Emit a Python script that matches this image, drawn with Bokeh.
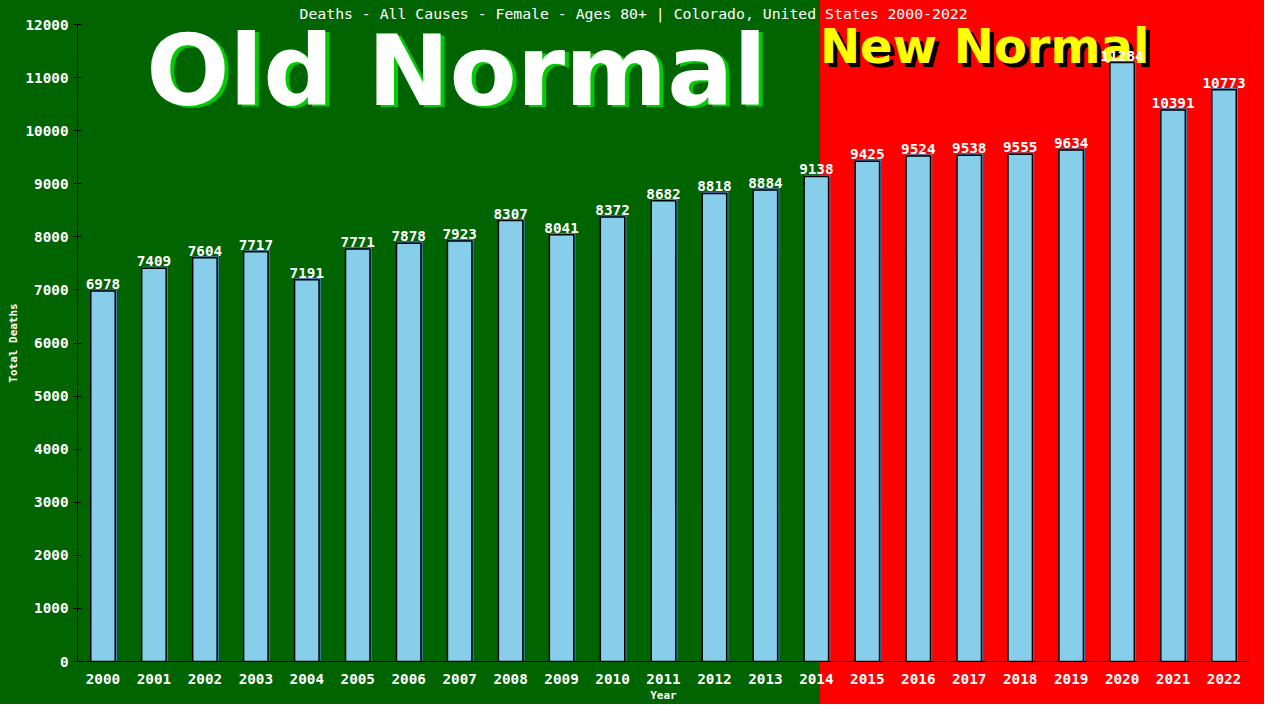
from bokeh.plotting import figure
from bokeh.models import FixedTicker, Label, Range1d, Span, ColumnDataSource
from bokeh.transform import dodge
from bokeh.embed import file_html
from bokeh.resources import INLINE
from bokeh.core.properties import value

# ---- data ----
years = list(range(2000, 2023))
deaths = [6978, 7409, 7604, 7717, 7191, 7771, 7878, 7923, 8307, 8041, 8372,
          8682, 8818, 8884, 9138, 9425, 9524, 9538, 9555, 9634, 11284, 10391,
          10773]
y_ticks = list(range(0, 12001, 1000))
title_text = "Deaths - All Causes - Female - Ages 80+ | Colorado, United States 2000-2022"
x_title = "Year"
y_title = "Total Deaths"
old_label = "Old Normal"
new_label = "New Normal"

GREEN = "#006400"
RED = "#ff0000"
MONO = "DejaVu Sans Mono"
SPLIT_PX = 820  # where the red "new normal" background starts (canvas px)

src = ColumnDataSource(dict(year=years, deaths=deaths,
                            label=[str(d) for d in deaths]))

p = figure(width=1264, height=704, output_backend="svg", toolbar_location=None,
           x_range=Range1d(1999.5, 2022.5), y_range=Range1d(0, 12000),
           min_border_left=77, min_border_right=15, min_border_top=24,
           min_border_bottom=42)
p.background_fill_color = None
p.border_fill_color = None
p.outline_line_color = None
p.grid.visible = False
p.styles = {"background": f"linear-gradient(to right, {GREEN} {SPLIT_PX}px, {RED} {SPLIT_PX}px)"}

# title
p.title.text = title_text
p.title.text_color = "white"
p.title.text_font = MONO
p.title.text_font_size = "14.8px"
p.title.text_font_style = "normal"
p.title.align = "left"
p.title.offset = 222
p.title.standoff = 5

# axes
xa = p.xaxis[0]
xa.ticker = FixedTicker(ticks=years)
xa.axis_label = x_title
xa.axis_line_color = "black"
xa.major_tick_line_color = None
xa.minor_tick_line_color = None
xa.major_label_text_color = "white"
xa.major_label_text_font = MONO
xa.major_label_text_font_size = "14.3px"
xa.major_label_text_font_style = "bold"
xa.major_label_standoff = 6
xa.axis_label_text_color = "white"
xa.axis_label_text_font = MONO
xa.axis_label_text_font_size = "11px"
xa.axis_label_text_font_style = "bold"
xa.axis_label_standoff = 2

ya = p.yaxis[0]
ya.ticker = FixedTicker(ticks=y_ticks)
ya.axis_label = y_title
ya.axis_line_color = "black"
ya.major_tick_line_color = "black"
ya.major_tick_in = 4
ya.major_tick_out = 4
ya.minor_tick_line_color = None
ya.major_label_text_color = "white"
ya.major_label_text_font = MONO
ya.major_label_text_font_size = "14.3px"
ya.major_label_text_font_style = "bold"
ya.major_label_standoff = 5
ya.axis_label_text_color = "white"
ya.axis_label_text_font = MONO
ya.axis_label_text_font_size = "11px"
ya.axis_label_text_font_style = "bold"
ya.axis_label_standoff = 2

p.add_layout(Span(location=2022.5, dimension="height", line_color="black",
                  line_width=1))

# big labels (drawn beneath the bars and value labels)
p.add_layout(Label(x=2006.94, y=11116, text=old_label, text_align="center",
                   text_baseline="alphabetic", text_color="#00cc00",
                   text_font="DejaVu Sans", text_font_style="bold",
                   text_font_size="98px", x_offset=4, y_offset=-2,
                   level="underlay"))
p.add_layout(Label(x=2006.94, y=11116, text=old_label, text_align="center",
                   text_baseline="alphabetic", text_color="white",
                   text_font="DejaVu Sans", text_font_style="bold",
                   text_font_size="98px", level="underlay"))
p.add_layout(Label(x=2014.07, y=11590, text=new_label, text_align="left",
                   text_baseline="alphabetic", text_color="black",
                   text_font="DejaVu Sans", text_font_style="bold",
                   text_font_size="48px", x_offset=4, y_offset=-4,
                   level="underlay"))
p.add_layout(Label(x=2014.07, y=11590, text=new_label, text_align="left",
                   text_baseline="alphabetic", text_color="yellow",
                   text_font="DejaVu Sans", text_font_style="bold",
                   text_font_size="48px", level="underlay"))

# bars: shadow outline, then main bar
p.vbar(x=dodge("year", 0.02), top=dodge("deaths", 18), width=0.48, bottom=0,
       source=src, fill_color=None, line_color="#4682b4", line_width=1.5)
p.vbar(x="year", top="deaths", width=0.48, bottom=0, source=src,
       fill_color="#87ceeb", line_color="black", line_width=1.5)

p.text(x="year", y="deaths", text="label", source=src, text_align="center",
       text_baseline="alphabetic", y_offset=-7, text_color="white",
       text_font=value(MONO), text_font_size="14.3px",
       text_font_style="bold")

open("out.html", "w").write(file_html(p, INLINE))
